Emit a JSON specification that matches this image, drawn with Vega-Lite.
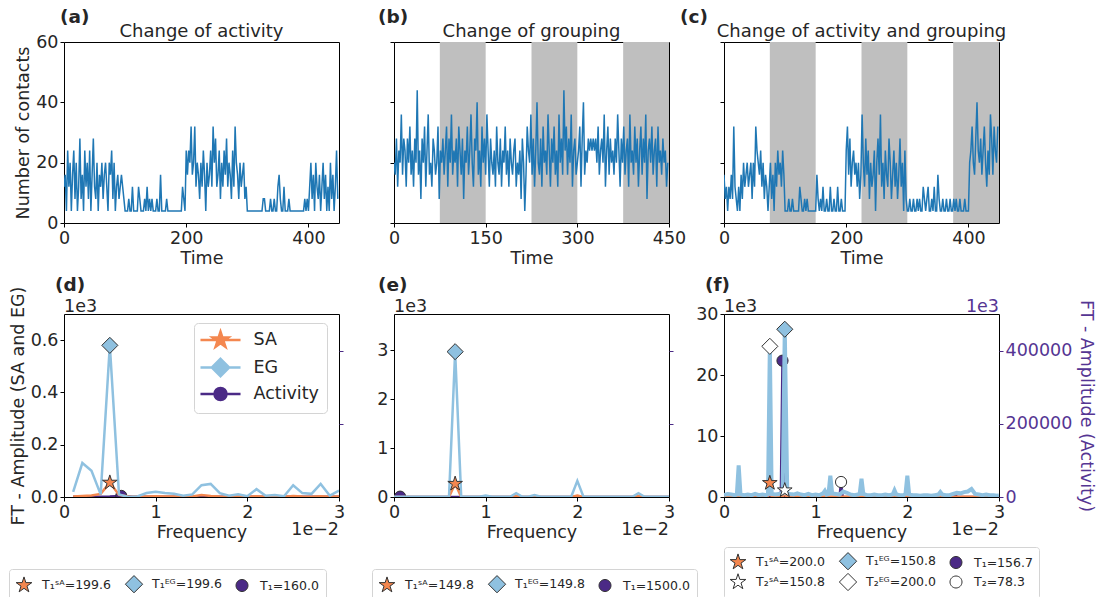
{
"$schema":"https://vega.github.io/schema/vega-lite/v6.json",
"background":"white",
"padding":{"left":8,"top":7,"right":2,"bottom":0},
"config":{
 "font":"DejaVu Sans",
 "view":{"stroke":"#000000","strokeWidth":1},
 "axis":{"domain":false,"grid":false,"tickColor":"#000000","tickSize":4,"tickWidth":1,"labelFont":"DejaVu Sans","labelFontSize":17.5,"labelColor":"#262626","labelPadding":2,"labelFlush":false,"labelOverlap":false,"labelBound":false,"titleFont":"DejaVu Sans","titleFontSize":17.5,"titleFontWeight":"normal","titleColor":"#262626","titlePadding":3},
 "legend":{"labelFont":"DejaVu Sans","labelColor":"#262626"},
 "text":{"font":"DejaVu Sans"}
},
"datasets":{
"ts":[
{"t":0,"a":12,"b":20,"c":16},{"t":2,"a":16,"b":16,"c":8},{"t":4,"a":4,"b":28,"c":12},{"t":6,"a":24,"b":12,"c":4},{"t":8,"a":12,"b":24,"c":12},{"t":10,"a":20,"b":20,"c":8},{"t":12,"a":4,"b":36,"c":16},{"t":14,"a":16,"b":16,"c":8},{"t":16,"a":24,"b":28,"c":32},{"t":18,"a":8,"b":24,"c":12},
{"t":20,"a":20,"b":12,"c":8},{"t":22,"a":4,"b":28,"c":4},{"t":24,"a":12,"b":20,"c":12},{"t":26,"a":28,"b":32,"c":4},{"t":28,"a":8,"b":16,"c":16},{"t":30,"a":16,"b":24,"c":8},{"t":32,"a":4,"b":12,"c":20},{"t":34,"a":24,"b":28,"c":12},{"t":36,"a":12,"b":20,"c":16},{"t":38,"a":20,"b":44,"c":20},
{"t":40,"a":8,"b":16,"c":12},{"t":42,"a":24,"b":24,"c":16},{"t":44,"a":4,"b":8,"c":20},{"t":46,"a":16,"b":28,"c":8},{"t":48,"a":28,"b":20,"c":20},{"t":50,"a":12,"b":32,"c":12},{"t":52,"a":8,"b":12,"c":32},{"t":54,"a":20,"b":24,"c":24},{"t":56,"a":4,"b":36,"c":20},{"t":58,"a":16,"b":16,"c":16},
{"t":60,"a":12,"b":20,"c":24},{"t":62,"a":20,"b":12,"c":12},{"t":64,"a":8,"b":28,"c":20},{"t":66,"a":16,"b":24,"c":8},{"t":68,"a":20,"b":16,"c":16},{"t":70,"a":12,"b":20,"c":12},{"t":72,"a":4,"b":32,"c":4},{"t":74,"a":20,"b":8,"c":12},{"t":76,"a":16,"b":24,"c":20},{"t":78,"a":24,"b":20,"c":8},
{"t":80,"a":8,"b":28,"c":16},{"t":82,"a":20,"b":16,"c":4},{"t":84,"a":4,"b":24,"c":20},{"t":86,"a":12,"b":32,"c":12},{"t":88,"a":16,"b":12,"c":24},{"t":90,"a":8,"b":28,"c":16},{"t":92,"a":12,"b":20,"c":20},{"t":94,"a":16,"b":36,"c":12},{"t":96,"a":12,"b":16,"c":24},{"t":98,"a":8,"b":24,"c":16},
{"t":100,"a":4,"b":20,"c":4},{"t":102,"a":4,"b":28,"c":4},{"t":104,"a":4,"b":12,"c":4},{"t":106,"a":8,"b":32,"c":8},{"t":108,"a":4,"b":24,"c":4},{"t":110,"a":4,"b":16,"c":4},{"t":112,"a":12,"b":28,"c":8},{"t":114,"a":4,"b":8,"c":4},{"t":116,"a":4,"b":24,"c":4},{"t":118,"a":4,"b":20,"c":4},
{"t":120,"a":4,"b":32,"c":4},{"t":122,"a":12,"b":16,"c":4},{"t":124,"a":8,"b":24,"c":12},{"t":126,"a":4,"b":36,"c":8},{"t":128,"a":4,"b":20,"c":4},{"t":130,"a":4,"b":12,"c":4},{"t":132,"a":8,"b":28,"c":8},{"t":134,"a":4,"b":24,"c":4},{"t":136,"a":12,"b":40,"c":8},{"t":138,"a":4,"b":16,"c":4},
{"t":140,"a":8,"b":24,"c":4},{"t":142,"a":4,"b":12,"c":4},{"t":144,"a":8,"b":32,"c":4},{"t":146,"a":4,"b":20,"c":4},{"t":148,"a":4,"b":28,"c":4},{"t":150,"a":4,"b":16,"c":4},{"t":152,"a":8,"b":36,"c":16},{"t":154,"a":4,"b":24,"c":8},{"t":156,"a":4,"b":12,"c":4},{"t":158,"a":16,"b":28,"c":8},
{"t":160,"a":4,"b":20,"c":4},{"t":162,"a":4,"b":16,"c":12},{"t":164,"a":4,"b":24,"c":4},{"t":166,"a":4,"b":12,"c":4},{"t":168,"a":8,"b":32,"c":8},{"t":170,"a":4,"b":20,"c":4},{"t":172,"a":4,"b":16,"c":4},{"t":174,"a":4,"b":28,"c":12},{"t":176,"a":4,"b":12,"c":4},{"t":178,"a":4,"b":24,"c":4},
{"t":180,"a":4,"b":20,"c":8},{"t":182,"a":4,"b":32,"c":4},{"t":184,"a":4,"b":16,"c":4},{"t":186,"a":4,"b":24,"c":12},{"t":188,"a":4,"b":12,"c":4},{"t":190,"a":4,"b":28,"c":4},{"t":192,"a":4,"b":20,"c":8},{"t":194,"a":12,"b":16,"c":4},{"t":196,"a":8,"b":24,"c":4},{"t":198,"a":4,"b":28,"c":4},
{"t":200,"a":24,"b":12,"c":24},{"t":202,"a":16,"b":20,"c":32},{"t":204,"a":24,"b":16,"c":16},{"t":206,"a":20,"b":24,"c":28},{"t":208,"a":32,"b":8,"c":12},{"t":210,"a":16,"b":28,"c":20},{"t":212,"a":20,"b":20,"c":24},{"t":214,"a":32,"b":4,"c":16},{"t":216,"a":12,"b":16,"c":20},{"t":218,"a":20,"b":32,"c":12},
{"t":220,"a":16,"b":24,"c":20},{"t":222,"a":8,"b":20,"c":8},{"t":224,"a":20,"b":36,"c":16},{"t":226,"a":12,"b":16,"c":36},{"t":228,"a":24,"b":28,"c":20},{"t":230,"a":16,"b":12,"c":12},{"t":232,"a":4,"b":24,"c":28},{"t":234,"a":20,"b":40,"c":16},{"t":236,"a":12,"b":20,"c":24},{"t":238,"a":16,"b":16,"c":8},
{"t":240,"a":24,"b":28,"c":20},{"t":242,"a":12,"b":12,"c":12},{"t":244,"a":32,"b":32,"c":16},{"t":246,"a":20,"b":20,"c":24},{"t":248,"a":28,"b":24,"c":4},{"t":250,"a":12,"b":16,"c":20},{"t":252,"a":16,"b":36,"c":28},{"t":254,"a":24,"b":24,"c":16},{"t":256,"a":8,"b":12,"c":36},{"t":258,"a":20,"b":28,"c":12},
{"t":260,"a":12,"b":20,"c":20},{"t":262,"a":24,"b":32,"c":8},{"t":264,"a":16,"b":16,"c":24},{"t":266,"a":28,"b":24,"c":16},{"t":268,"a":12,"b":12,"c":12},{"t":270,"a":20,"b":36,"c":28},{"t":272,"a":16,"b":20,"c":20},{"t":274,"a":8,"b":28,"c":8},{"t":276,"a":24,"b":16,"c":16},{"t":278,"a":12,"b":44,"c":24},
{"t":280,"a":32,"b":24,"c":12},{"t":282,"a":20,"b":32,"c":20},{"t":284,"a":16,"b":16,"c":8},{"t":286,"a":8,"b":28,"c":16},{"t":288,"a":20,"b":20,"c":28},{"t":290,"a":12,"b":36,"c":12},{"t":292,"a":16,"b":12,"c":20},{"t":294,"a":20,"b":24,"c":4},{"t":296,"a":8,"b":28,"c":24},{"t":298,"a":12,"b":16,"c":8},
{"t":300,"a":4,"b":20,"c":4},{"t":302,"a":4,"b":24,"c":4},{"t":304,"a":4,"b":32,"c":8},{"t":306,"a":4,"b":12,"c":4},{"t":308,"a":4,"b":28,"c":4},{"t":310,"a":4,"b":40,"c":8},{"t":312,"a":4,"b":16,"c":4},{"t":314,"a":4,"b":24,"c":4},{"t":316,"a":4,"b":20,"c":8},{"t":318,"a":4,"b":28,"c":4},
{"t":320,"a":4,"b":24,"c":8},{"t":322,"a":4,"b":28,"c":4},{"t":324,"a":4,"b":24,"c":4},{"t":326,"a":8,"b":28,"c":12},{"t":328,"a":8,"b":24,"c":8},{"t":330,"a":4,"b":28,"c":4},{"t":332,"a":4,"b":20,"c":8},{"t":334,"a":4,"b":32,"c":12},{"t":336,"a":4,"b":16,"c":4},{"t":338,"a":8,"b":24,"c":4},
{"t":340,"a":4,"b":28,"c":8},{"t":342,"a":4,"b":20,"c":4},{"t":344,"a":8,"b":36,"c":12},{"t":346,"a":4,"b":12,"c":4},{"t":348,"a":4,"b":24,"c":4},{"t":350,"a":12,"b":32,"c":16},{"t":352,"a":16,"b":16,"c":8},{"t":354,"a":8,"b":28,"c":4},{"t":356,"a":4,"b":20,"c":4},{"t":358,"a":4,"b":24,"c":8},
{"t":360,"a":12,"b":16,"c":4},{"t":362,"a":4,"b":28,"c":4},{"t":364,"a":4,"b":20,"c":8},{"t":366,"a":4,"b":36,"c":4},{"t":368,"a":8,"b":24,"c":4},{"t":370,"a":4,"b":12,"c":8},{"t":372,"a":4,"b":28,"c":4},{"t":374,"a":4,"b":20,"c":4},{"t":376,"a":4,"b":32,"c":8},{"t":378,"a":4,"b":16,"c":4},
{"t":380,"a":4,"b":24,"c":8},{"t":382,"a":4,"b":28,"c":4},{"t":384,"a":4,"b":12,"c":4},{"t":386,"a":4,"b":36,"c":8},{"t":388,"a":4,"b":20,"c":4},{"t":390,"a":4,"b":24,"c":4},{"t":392,"a":4,"b":16,"c":4},{"t":394,"a":8,"b":32,"c":8},{"t":396,"a":4,"b":20,"c":4},{"t":398,"a":8,"b":28,"c":4},
{"t":400,"a":4,"b":12,"c":4},{"t":402,"a":12,"b":24,"c":20},{"t":404,"a":20,"b":32,"c":24},{"t":406,"a":8,"b":16,"c":32},{"t":408,"a":16,"b":28,"c":20},{"t":410,"a":4,"b":20,"c":16},{"t":412,"a":20,"b":36,"c":28},{"t":414,"a":12,"b":8,"c":40},{"t":416,"a":8,"b":24,"c":24},{"t":418,"a":16,"b":28,"c":20},
{"t":420,"a":4,"b":20,"c":28},{"t":422,"a":12,"b":32,"c":16},{"t":424,"a":20,"b":16,"c":24},{"t":426,"a":8,"b":24,"c":32},{"t":428,"a":16,"b":28,"c":20},{"t":430,"a":4,"b":12,"c":12},{"t":432,"a":12,"b":32,"c":24},{"t":434,"a":4,"b":20,"c":16},{"t":436,"a":20,"b":24,"c":36},{"t":438,"a":8,"b":16,"c":28},
{"t":440,"a":16,"b":28,"c":16},{"t":442,"a":4,"b":20,"c":32},{"t":444,"a":12,"b":24,"c":24},{"t":446,"a":24,"b":12,"c":20},{"t":448,"a":8,"b":20,"c":32}
],
"bands":[{"s":75,"e":150},{"s":225,"e":300},{"s":375,"e":450}],
"dSA":[{"f":0.1,"v":0.002},{"f":0.2,"v":0.004},{"f":0.3,"v":0.006},{"f":0.4,"v":0.012},{"f":0.5,"v":0.055},{"f":0.6,"v":0.008},{"f":0.7,"v":0.002},{"f":0.8,"v":0.001},{"f":0.9,"v":0.002},{"f":1.0,"v":0.003},{"f":1.1,"v":0.002},{"f":1.2,"v":0.002},{"f":1.3,"v":0.001},{"f":1.4,"v":0.002},{"f":1.5,"v":0.008},{"f":1.6,"v":0.004},{"f":1.7,"v":0.002},{"f":1.8,"v":0.001},{"f":1.9,"v":0.002},{"f":2.0,"v":0.001},{"f":2.1,"v":0.003},{"f":2.2,"v":0.001},{"f":2.3,"v":0.001},{"f":2.4,"v":0.001},{"f":2.5,"v":0.004},{"f":2.6,"v":0.002},{"f":2.7,"v":0.001},{"f":2.8,"v":0.003},{"f":2.9,"v":0.001},{"f":3.0,"v":0.002}],
"dEG":[{"f":0.1,"v":0.02},{"f":0.2,"v":0.13},{"f":0.3,"v":0.10},{"f":0.4,"v":0.01},{"f":0.5,"v":0.58},{"f":0.6,"v":0.01},{"f":0.7,"v":0.0},{"f":0.8,"v":0.002},{"f":0.9,"v":0.015},{"f":1.0,"v":0.02},{"f":1.1,"v":0.015},{"f":1.2,"v":0.012},{"f":1.3,"v":0.005},{"f":1.4,"v":0.01},{"f":1.5,"v":0.045},{"f":1.6,"v":0.05},{"f":1.7,"v":0.015},{"f":1.8,"v":0.005},{"f":1.9,"v":0.01},{"f":2.0,"v":0.003},{"f":2.1,"v":0.03},{"f":2.2,"v":0.005},{"f":2.3,"v":0.008},{"f":2.4,"v":0.003},{"f":2.5,"v":0.045},{"f":2.6,"v":0.015},{"f":2.7,"v":0.012},{"f":2.8,"v":0.05},{"f":2.9,"v":0.005},{"f":3.0,"v":0.025}],
"dAct":[{"f":0.1,"v":500},{"f":0.3,"v":800},{"f":0.5,"v":1500},{"f":0.625,"v":3000},{"f":0.75,"v":800},{"f":1.0,"v":500},{"f":1.5,"v":600},{"f":2.0,"v":400},{"f":2.5,"v":500},{"f":3.0,"v":400}],
"dM":[{"f":0.5,"v":0.055,"m":"T₁ˢᴬ=199.6"},{"f":0.5,"v":0.58,"m":"T₁ᴱᴳ=199.6"}],
"dAM":[{"f":0.625,"v":3000,"m":"T₁=160.0"}],
"eSA":[{"f":0,"v":0.002},{"f":0.6,"v":0.002},{"f":0.667,"v":0.27},{"f":0.733,"v":0.002},{"f":1.267,"v":0.002},{"f":1.333,"v":0.02},{"f":1.4,"v":0.002},{"f":1.933,"v":0.002},{"f":2.0,"v":0.03},{"f":2.067,"v":0.002},{"f":2.6,"v":0.002},{"f":2.667,"v":0.02},{"f":2.733,"v":0.002},{"f":3.0,"v":0.002}],
"eEG":[{"f":0,"v":0.005},{"f":0.6,"v":0.005},{"f":0.667,"v":2.97},{"f":0.733,"v":0.005},{"f":0.933,"v":0.005},{"f":1.0,"v":0.03},{"f":1.067,"v":0.005},{"f":1.267,"v":0.005},{"f":1.333,"v":0.08},{"f":1.4,"v":0.005},{"f":1.467,"v":0.005},{"f":1.533,"v":0.04},{"f":1.6,"v":0.005},{"f":1.933,"v":0.005},{"f":2.0,"v":0.33},{"f":2.067,"v":0.005},{"f":2.6,"v":0.005},{"f":2.667,"v":0.08},{"f":2.733,"v":0.005},{"f":3.0,"v":0.005}],
"eAct":[{"f":0,"v":0},{"f":0.0667,"v":1000},{"f":0.133,"v":0},{"f":3.0,"v":0}],
"eM":[{"f":0.667,"v":0.27,"m":"T₁ˢᴬ=149.8"},{"f":0.667,"v":2.97,"m":"T₁ᴱᴳ=149.8"}],
"eAM":[{"f":0.0667,"v":1000,"m":"T₁=1500.0"}],
"fSA":[{"f":0,"v":0.05},{"f":0.48,"v":0.05},{"f":0.5,"v":2.3},{"f":0.52,"v":0.05},{"f":0.645,"v":0.05},{"f":0.663,"v":1.1},{"f":0.68,"v":0.05},{"f":3.0,"v":0.05}],
"fEG":[{"f":0,"v":0.3},{"f":0.04,"v":0.5},{"f":0.08,"v":0.4},{"f":0.12,"v":0.3},{"f":0.14,"v":0.4},{"f":0.16,"v":5.2},{"f":0.18,"v":0.4},{"f":0.22,"v":0.3},{"f":0.26,"v":0.4},{"f":0.3,"v":0.3},{"f":0.34,"v":0.5},{"f":0.38,"v":0.3},{"f":0.42,"v":0.4},{"f":0.46,"v":0.3},{"f":0.48,"v":0.5},{"f":0.5,"v":24.7},{"f":0.52,"v":0.5},{"f":0.56,"v":0.4},{"f":0.6,"v":0.5},{"f":0.64,"v":0.6},{"f":0.663,"v":27.5},{"f":0.69,"v":0.6},{"f":0.72,"v":0.5},{"f":0.76,"v":0.4},{"f":0.8,"v":0.6},{"f":0.84,"v":0.4},{"f":0.88,"v":0.3},{"f":0.92,"v":0.5},{"f":0.96,"v":0.3},{"f":1.0,"v":0.4},{"f":1.04,"v":0.3},{"f":1.08,"v":0.6},{"f":1.1,"v":1.0},{"f":1.12,"v":0.4},{"f":1.14,"v":0.5},{"f":1.16,"v":3.5},{"f":1.18,"v":0.6},{"f":1.22,"v":0.5},{"f":1.26,"v":0.4},{"f":1.3,"v":0.9},{"f":1.34,"v":0.7},{"f":1.38,"v":0.4},{"f":1.42,"v":0.3},{"f":1.46,"v":0.4},{"f":1.48,"v":0.5},{"f":1.5,"v":3.0},{"f":1.52,"v":0.5},{"f":1.56,"v":0.3},{"f":1.6,"v":0.3},{"f":1.64,"v":0.4},{"f":1.68,"v":0.3},{"f":1.72,"v":0.3},{"f":1.76,"v":0.4},{"f":1.8,"v":0.3},{"f":1.84,"v":0.4},{"f":1.86,"v":1.1},{"f":1.88,"v":0.4},{"f":1.92,"v":0.3},{"f":1.96,"v":0.3},{"f":1.98,"v":0.5},{"f":2.0,"v":3.5},{"f":2.02,"v":0.4},{"f":2.06,"v":0.3},{"f":2.1,"v":0.3},{"f":2.14,"v":0.2},{"f":2.18,"v":0.3},{"f":2.22,"v":0.3},{"f":2.26,"v":0.2},{"f":2.3,"v":0.3},{"f":2.34,"v":0.4},{"f":2.36,"v":0.8},{"f":2.38,"v":0.4},{"f":2.42,"v":0.3},{"f":2.46,"v":0.3},{"f":2.5,"v":0.5},{"f":2.54,"v":0.7},{"f":2.58,"v":0.6},{"f":2.62,"v":0.8},{"f":2.66,"v":0.9},{"f":2.7,"v":1.3},{"f":2.74,"v":0.5},{"f":2.78,"v":0.4},{"f":2.82,"v":0.3},{"f":2.86,"v":0.4},{"f":2.9,"v":0.3},{"f":2.94,"v":0.3},{"f":2.98,"v":0.2},{"f":3.0,"v":0.3}],
"fAct":[{"f":0,"v":0},{"f":0.62,"v":0},{"f":0.638,"v":372500},{"f":0.656,"v":0},{"f":1.26,"v":0},{"f":1.277,"v":41000},{"f":1.294,"v":0},{"f":2.5,"v":0},{"f":2.52,"v":8000},{"f":2.54,"v":0},{"f":3.0,"v":0}],
"fM":[{"f":0.5,"v":2.3,"m":"T₁ˢᴬ=200.0"},{"f":0.663,"v":27.5,"m":"T₁ᴱᴳ=150.8"},{"f":0.663,"v":1.1,"m":"T₂ˢᴬ=150.8"},{"f":0.5,"v":24.7,"m":"T₂ᴱᴳ=200.0"}],
"fAM":[{"f":0.638,"v":372500,"m":"T₁=156.7"},{"f":1.277,"v":41000,"m":"T₂=78.3"}]
},
"columns":3,
"spacing":{"row":91,"column":55},
"bounds":"flush",
"resolve":{"scale":{"x":"independent","y":"independent","color":"independent","fill":"independent","stroke":"independent","shape":"independent"},"legend":{"color":"independent","fill":"independent","stroke":"independent","shape":"independent"}},
"concat":[
{"width":275,"height":181,
 "layer":[
  {"data":{"name":"ts"},"mark":{"type":"line","color":"#1f77b4","strokeWidth":1.5,"clip":true},
   "encoding":{"x":{"field":"t","type":"quantitative","scale":{"domain":[0,450],"nice":false},"axis":{"values":[0,200,400],"title":"Time"}},
    "y":{"field":"a","type":"quantitative","scale":{"domain":[0,60],"nice":false},"axis":{"values":[0,20,40,60],"title":"Number of contacts"}}}},
  {"data":{"values":[{"lab":"(a)"}]},"mark":{"type":"text","fontSize":18.5,"fontWeight":"bold","align":"left","baseline":"alphabetic","color":"#262626"},
   "encoding":{"x":{"datum":-6.5,"type":"quantitative","scale":{"domain":[0,450],"nice":false}},"y":{"datum":66.3,"type":"quantitative","scale":{"domain":[0,60],"nice":false}},"text":{"field":"lab","type":"nominal"}}},
  {"data":{"values":[{"lab":"Change of activity"}]},"mark":{"type":"text","fontSize":18,"align":"center","baseline":"alphabetic","color":"#262626"},
   "encoding":{"x":{"datum":225,"type":"quantitative","scale":{"domain":[0,450],"nice":false}},"y":{"datum":61.66,"type":"quantitative","scale":{"domain":[0,60],"nice":false}},"text":{"field":"lab","type":"nominal"}}}
 ]},
{"width":275,"height":181,
 "layer":[
  {"data":{"name":"bands"},"mark":{"type":"rect","color":"#bfbfbf"},
   "encoding":{"x":{"field":"s","type":"quantitative","scale":{"domain":[0,450],"nice":false}},"x2":{"field":"e"}}},
  {"data":{"name":"ts"},"mark":{"type":"line","color":"#1f77b4","strokeWidth":1.5,"clip":true},
   "encoding":{"x":{"field":"t","type":"quantitative","scale":{"domain":[0,450],"nice":false},"axis":{"values":[0,150,300,450],"title":"Time"}},
    "y":{"field":"b","type":"quantitative","scale":{"domain":[0,60],"nice":false},"axis":{"values":[0,20,40,60],"labels":false,"title":null}}}},
  {"data":{"values":[{"lab":"(b)"}]},"mark":{"type":"text","fontSize":18.5,"fontWeight":"bold","align":"left","baseline":"alphabetic","color":"#262626"},
   "encoding":{"x":{"datum":-26.2,"type":"quantitative","scale":{"domain":[0,450],"nice":false}},"y":{"datum":66.3,"type":"quantitative","scale":{"domain":[0,60],"nice":false}},"text":{"field":"lab","type":"nominal"}}},
  {"data":{"values":[{"lab":"Change of grouping"}]},"mark":{"type":"text","fontSize":18,"align":"center","baseline":"alphabetic","color":"#262626"},
   "encoding":{"x":{"datum":225,"type":"quantitative","scale":{"domain":[0,450],"nice":false}},"y":{"datum":61.66,"type":"quantitative","scale":{"domain":[0,60],"nice":false}},"text":{"field":"lab","type":"nominal"}}}
 ]},
{"width":275,"height":181,
 "layer":[
  {"data":{"name":"bands"},"mark":{"type":"rect","color":"#bfbfbf"},
   "encoding":{"x":{"field":"s","type":"quantitative","scale":{"domain":[0,450],"nice":false}},"x2":{"field":"e"}}},
  {"data":{"name":"ts"},"mark":{"type":"line","color":"#1f77b4","strokeWidth":1.5,"clip":true},
   "encoding":{"x":{"field":"t","type":"quantitative","scale":{"domain":[0,450],"nice":false},"axis":{"values":[0,200,400],"title":"Time"}},
    "y":{"field":"c","type":"quantitative","scale":{"domain":[0,60],"nice":false},"axis":{"values":[0,20,40,60],"labels":false,"title":null}}}},
  {"data":{"values":[{"lab":"(c)"}]},"mark":{"type":"text","fontSize":18.5,"fontWeight":"bold","align":"left","baseline":"alphabetic","color":"#262626"},
   "encoding":{"x":{"datum":-72,"type":"quantitative","scale":{"domain":[0,450],"nice":false}},"y":{"datum":66.3,"type":"quantitative","scale":{"domain":[0,60],"nice":false}},"text":{"field":"lab","type":"nominal"}}},
  {"data":{"values":[{"lab":"Change of activity and grouping"}]},"mark":{"type":"text","fontSize":18,"align":"center","baseline":"alphabetic","color":"#262626"},
   "encoding":{"x":{"datum":225,"type":"quantitative","scale":{"domain":[0,450],"nice":false}},"y":{"datum":61.66,"type":"quantitative","scale":{"domain":[0,60],"nice":false}},"text":{"field":"lab","type":"nominal"}}}
 ]},
{"width":275,"height":183,
 "resolve":{"scale":{"y":"independent","color":"independent","fill":"independent","shape":"independent","stroke":"independent"}},
 "layer":[
  {"layer":[
   {"data":{"name":"dAct"},"mark":{"type":"line","strokeWidth":2.5,"clip":true},
    "encoding":{"x":{"field":"f","type":"quantitative","scale":{"domain":[0,3],"nice":false}},
     "y":{"field":"v","type":"quantitative","scale":{"domain":[0,500000],"nice":false},"axis":{"orient":"right","values":[200000,400000],"labels":false,"title":null,"tickColor":"#4b2a86"}},
     "color":{"datum":"Activity","type":"nominal","scale":{"domain":["SA","EG","Activity"],"range":["#f4874f","#8fc1e0","#4b2a86"]},"legend":null}}},
   {"data":{"name":"dAM"},"mark":{"type":"point","filled":true,"size":196,"strokeWidth":1,"opacity":1,"clip":true},
    "encoding":{"x":{"field":"f","type":"quantitative","scale":{"domain":[0,3],"nice":false}},"y":{"field":"v","type":"quantitative","scale":{"domain":[0,500000],"nice":false}},
     "fill":{"field":"m","type":"nominal","scale":{"domain":["T₁ˢᴬ=199.6","T₁ᴱᴳ=199.6","T₁=160.0"],"range":["#f4874f","#8fc1e0","#4b2a86"]},"legend":null},
     "stroke":{"field":"m","type":"nominal","scale":{"domain":["T₁ˢᴬ=199.6","T₁ᴱᴳ=199.6","T₁=160.0"],"range":["#333333","#333333","#333333"]},"legend":null},
     "shape":{"field":"m","type":"nominal","scale":{"domain":["T₁ˢᴬ=199.6","T₁ᴱᴳ=199.6","T₁=160.0"],"range":["M0,-1.1L0.247,-0.34L1.046,-0.34L0.4,0.13L0.647,0.89L0,0.42L-0.647,0.89L-0.4,0.13L-1.046,-0.34L-0.247,-0.34Z","M0,-1.15L1.15,0L0,1.15L-1.15,0Z","M0.8,0A0.8,0.8,0,1,1,-0.8,0A0.8,0.8,0,1,1,0.8,0Z"]},"legend":null}}}
  ]},
  {"layer":[
   {"data":{"name":"dSA"},"mark":{"type":"line","strokeWidth":2.5,"clip":true},
    "encoding":{"x":{"field":"f","type":"quantitative","scale":{"domain":[0,3],"nice":false},"axis":{"values":[0,1,2,3],"format":"d","title":"Frequency"}},
     "y":{"field":"v","type":"quantitative","scale":{"domain":[0,0.7],"nice":false},"axis":{"orient":"left","values":[0,0.2,0.4,0.6],"format":".1f","title":"FT - Amplitude (SA and EG)"}},
     "color":{"datum":"SA","type":"nominal","scale":{"domain":["SA","EG","Activity"],"range":["#f4874f","#8fc1e0","#4b2a86"]},"legend":null}}},
   {"data":{"name":"dEG"},"mark":{"type":"line","strokeWidth":2.5,"clip":true},
    "encoding":{"x":{"field":"f","type":"quantitative","scale":{"domain":[0,3],"nice":false}},"y":{"field":"v","type":"quantitative","scale":{"domain":[0,0.7],"nice":false}},
     "color":{"datum":"EG","type":"nominal","scale":{"domain":["SA","EG","Activity"],"range":["#f4874f","#8fc1e0","#4b2a86"]},"legend":null}}},
   {"data":{"name":"dM"},"mark":{"type":"point","filled":true,"size":196,"strokeWidth":1,"opacity":1,"clip":true},
    "encoding":{"x":{"field":"f","type":"quantitative","scale":{"domain":[0,3],"nice":false}},"y":{"field":"v","type":"quantitative","scale":{"domain":[0,0.7],"nice":false}},
     "fill":{"field":"m","type":"nominal","scale":{"domain":["T₁ˢᴬ=199.6","T₁ᴱᴳ=199.6","T₁=160.0"],"range":["#f4874f","#8fc1e0","#4b2a86"]},
      "legend":{"orient":"none","legendX":-55,"legendY":255,"direction":"horizontal","columns":3,"title":null,"fillColor":"white","strokeColor":"#d4d4d4","cornerRadius":3,"padding":7,"labelFontSize":12.5,"labelColor":"#262626","symbolSize":225,"symbolStrokeWidth":1,"labelOffset":10,"columnPadding":12,"rowPadding":7}},
     "stroke":{"field":"m","type":"nominal","scale":{"domain":["T₁ˢᴬ=199.6","T₁ᴱᴳ=199.6","T₁=160.0"],"range":["#333333","#333333","#333333"]},
      "legend":{"orient":"none","legendX":-55,"legendY":255,"direction":"horizontal","columns":3,"title":null,"fillColor":"white","strokeColor":"#d4d4d4","cornerRadius":3,"padding":7,"labelFontSize":12.5,"labelColor":"#262626","symbolSize":225,"symbolStrokeWidth":1,"labelOffset":10,"columnPadding":12,"rowPadding":7}},
     "shape":{"field":"m","type":"nominal","scale":{"domain":["T₁ˢᴬ=199.6","T₁ᴱᴳ=199.6","T₁=160.0"],"range":["M0,-1.1L0.247,-0.34L1.046,-0.34L0.4,0.13L0.647,0.89L0,0.42L-0.647,0.89L-0.4,0.13L-1.046,-0.34L-0.247,-0.34Z","M0,-1.15L1.15,0L0,1.15L-1.15,0Z","M0.8,0A0.8,0.8,0,1,1,-0.8,0A0.8,0.8,0,1,1,0.8,0Z"]},
      "legend":{"orient":"none","legendX":-55,"legendY":255,"direction":"horizontal","columns":3,"title":null,"fillColor":"white","strokeColor":"#d4d4d4","cornerRadius":3,"padding":7,"labelFontSize":12.5,"labelColor":"#262626","symbolSize":225,"symbolStrokeWidth":1,"labelOffset":10,"columnPadding":12,"rowPadding":7}}}},
   {"data":{"values":[{"lab":"(d)"}]},"mark":{"type":"text","fontSize":18.5,"fontWeight":"bold","align":"left","baseline":"alphabetic","color":"#262626"},
    "encoding":{"x":{"datum":-0.098,"type":"quantitative","scale":{"domain":[0,3],"nice":false}},"y":{"datum":0.788,"type":"quantitative","scale":{"domain":[0,0.7],"nice":false}},"text":{"field":"lab","type":"nominal"}}},
   {"data":{"values":[{"lab":"1e3"}]},"mark":{"type":"text","fontSize":17.5,"align":"left","baseline":"alphabetic","color":"#262626"},
    "encoding":{"x":{"datum":0,"type":"quantitative","scale":{"domain":[0,3],"nice":false}},"y":{"datum":0.7076,"type":"quantitative","scale":{"domain":[0,0.7],"nice":false}},"text":{"field":"lab","type":"nominal"}}},
   {"data":{"values":[{"lab":"1e−2"}]},"mark":{"type":"text","fontSize":17.5,"align":"right","baseline":"alphabetic","color":"#262626"},
    "encoding":{"x":{"datum":3,"type":"quantitative","scale":{"domain":[0,3],"nice":false}},"y":{"datum":-0.145,"type":"quantitative","scale":{"domain":[0,0.7],"nice":false}},"text":{"field":"lab","type":"nominal"}}}
  ]},
  {"data":{"values":[]},"mark":{"type":"point","filled":true,"opacity":1,"strokeWidth":2.5},
   "encoding":{"x":{"field":"f","type":"quantitative","scale":{"domain":[0,3],"nice":false}},"y":{"field":"v","type":"quantitative","scale":{"domain":[0,1],"nice":false},"axis":null},
    "color":{"field":"s","type":"nominal","scale":{"domain":["SA","EG","Activity"],"range":["#f4874f","#8fc1e0","#4b2a86"]},
     "legend":{"orient":"none","legendX":130,"legendY":9,"direction":"vertical","title":null,"fillColor":"white","strokeColor":"#d4d4d4","cornerRadius":4,"padding":8,"labelFontSize":17.5,"labelColor":"#262626","symbolSize":225,"symbolOffset":9.5,"labelOffset":24,"rowPadding":1.5,"symbolStrokeWidth":2.5}},
    "stroke":{"field":"s","type":"nominal","scale":{"domain":["SA","EG","Activity"],"range":["#f4874f","#8fc1e0","#4b2a86"]},
     "legend":{"orient":"none","legendX":130,"legendY":9,"direction":"vertical","title":null,"fillColor":"white","strokeColor":"#d4d4d4","cornerRadius":4,"padding":8,"labelFontSize":17.5,"labelColor":"#262626","symbolSize":225,"symbolOffset":9.5,"labelOffset":24,"rowPadding":1.5,"symbolStrokeWidth":2.5}},
    "shape":{"field":"s","type":"nominal","scale":{"domain":["SA","EG","Activity"],"range":["M-2.67,0L2.67,0M0,-1.1L0.247,-0.34L1.046,-0.34L0.4,0.13L0.647,0.89L0,0.42L-0.647,0.89L-0.4,0.13L-1.046,-0.34L-0.247,-0.34Z","M-2.67,0L2.67,0M0,-1.15L1.15,0L0,1.15L-1.15,0Z","M-2.67,0L2.67,0M0.8,0A0.8,0.8,0,1,1,-0.8,0A0.8,0.8,0,1,1,0.8,0Z"]},
     "legend":{"orient":"none","legendX":130,"legendY":9,"direction":"vertical","title":null,"fillColor":"white","strokeColor":"#d4d4d4","cornerRadius":4,"padding":8,"labelFontSize":17.5,"labelColor":"#262626","symbolSize":225,"symbolOffset":9.5,"labelOffset":24,"rowPadding":1.5,"symbolStrokeWidth":2.5}}}}
 ]},
{"width":275,"height":183,
 "resolve":{"scale":{"y":"independent","color":"independent","fill":"independent","shape":"independent","stroke":"independent"}},
 "layer":[
  {"layer":[
   {"data":{"name":"eAct"},"mark":{"type":"line","strokeWidth":2.5,"clip":true},
    "encoding":{"x":{"field":"f","type":"quantitative","scale":{"domain":[0,3],"nice":false}},
     "y":{"field":"v","type":"quantitative","scale":{"domain":[0,500000],"nice":false},"axis":{"orient":"right","values":[200000,400000],"labels":false,"title":null,"tickColor":"#4b2a86"}},
     "color":{"datum":"Activity","type":"nominal","scale":{"domain":["SA","EG","Activity"],"range":["#f4874f","#8fc1e0","#4b2a86"]},"legend":null}}},
   {"data":{"name":"eAM"},"mark":{"type":"point","filled":true,"size":196,"strokeWidth":1,"opacity":1,"clip":true},
    "encoding":{"x":{"field":"f","type":"quantitative","scale":{"domain":[0,3],"nice":false}},"y":{"field":"v","type":"quantitative","scale":{"domain":[0,500000],"nice":false}},
     "fill":{"field":"m","type":"nominal","scale":{"domain":["T₁ˢᴬ=149.8","T₁ᴱᴳ=149.8","T₁=1500.0"],"range":["#f4874f","#8fc1e0","#4b2a86"]},"legend":null},
     "stroke":{"field":"m","type":"nominal","scale":{"domain":["T₁ˢᴬ=149.8","T₁ᴱᴳ=149.8","T₁=1500.0"],"range":["#333333","#333333","#333333"]},"legend":null},
     "shape":{"field":"m","type":"nominal","scale":{"domain":["T₁ˢᴬ=149.8","T₁ᴱᴳ=149.8","T₁=1500.0"],"range":["M0,-1.1L0.247,-0.34L1.046,-0.34L0.4,0.13L0.647,0.89L0,0.42L-0.647,0.89L-0.4,0.13L-1.046,-0.34L-0.247,-0.34Z","M0,-1.15L1.15,0L0,1.15L-1.15,0Z","M0.8,0A0.8,0.8,0,1,1,-0.8,0A0.8,0.8,0,1,1,0.8,0Z"]},"legend":null}}}
  ]},
  {"layer":[
   {"data":{"name":"eSA"},"mark":{"type":"line","strokeWidth":2.5,"clip":true},
    "encoding":{"x":{"field":"f","type":"quantitative","scale":{"domain":[0,3],"nice":false},"axis":{"values":[0,1,2,3],"format":"d","title":"Frequency"}},
     "y":{"field":"v","type":"quantitative","scale":{"domain":[0,3.74],"nice":false},"axis":{"orient":"left","values":[0,1,2,3],"format":"d","title":null}},
     "color":{"datum":"SA","type":"nominal","scale":{"domain":["SA","EG","Activity"],"range":["#f4874f","#8fc1e0","#4b2a86"]},"legend":null}}},
   {"data":{"name":"eEG"},"mark":{"type":"line","strokeWidth":2.5,"clip":true},
    "encoding":{"x":{"field":"f","type":"quantitative","scale":{"domain":[0,3],"nice":false}},"y":{"field":"v","type":"quantitative","scale":{"domain":[0,3.74],"nice":false}},
     "color":{"datum":"EG","type":"nominal","scale":{"domain":["SA","EG","Activity"],"range":["#f4874f","#8fc1e0","#4b2a86"]},"legend":null}}},
   {"data":{"name":"eM"},"mark":{"type":"point","filled":true,"size":196,"strokeWidth":1,"opacity":1,"clip":true},
    "encoding":{"x":{"field":"f","type":"quantitative","scale":{"domain":[0,3],"nice":false}},"y":{"field":"v","type":"quantitative","scale":{"domain":[0,3.74],"nice":false}},
     "fill":{"field":"m","type":"nominal","scale":{"domain":["T₁ˢᴬ=149.8","T₁ᴱᴳ=149.8","T₁=1500.0"],"range":["#f4874f","#8fc1e0","#4b2a86"]},
      "legend":{"orient":"none","legendX":-22,"legendY":255,"direction":"horizontal","columns":3,"title":null,"fillColor":"white","strokeColor":"#d4d4d4","cornerRadius":3,"padding":7,"labelFontSize":12.5,"labelColor":"#262626","symbolSize":225,"symbolStrokeWidth":1,"labelOffset":10,"columnPadding":12,"rowPadding":7}},
     "stroke":{"field":"m","type":"nominal","scale":{"domain":["T₁ˢᴬ=149.8","T₁ᴱᴳ=149.8","T₁=1500.0"],"range":["#333333","#333333","#333333"]},
      "legend":{"orient":"none","legendX":-22,"legendY":255,"direction":"horizontal","columns":3,"title":null,"fillColor":"white","strokeColor":"#d4d4d4","cornerRadius":3,"padding":7,"labelFontSize":12.5,"labelColor":"#262626","symbolSize":225,"symbolStrokeWidth":1,"labelOffset":10,"columnPadding":12,"rowPadding":7}},
     "shape":{"field":"m","type":"nominal","scale":{"domain":["T₁ˢᴬ=149.8","T₁ᴱᴳ=149.8","T₁=1500.0"],"range":["M0,-1.1L0.247,-0.34L1.046,-0.34L0.4,0.13L0.647,0.89L0,0.42L-0.647,0.89L-0.4,0.13L-1.046,-0.34L-0.247,-0.34Z","M0,-1.15L1.15,0L0,1.15L-1.15,0Z","M0.8,0A0.8,0.8,0,1,1,-0.8,0A0.8,0.8,0,1,1,0.8,0Z"]},
      "legend":{"orient":"none","legendX":-22,"legendY":255,"direction":"horizontal","columns":3,"title":null,"fillColor":"white","strokeColor":"#d4d4d4","cornerRadius":3,"padding":7,"labelFontSize":12.5,"labelColor":"#262626","symbolSize":225,"symbolStrokeWidth":1,"labelOffset":10,"columnPadding":12,"rowPadding":7}}}},
   {"data":{"values":[{"lab":"(e)"}]},"mark":{"type":"text","fontSize":18.5,"fontWeight":"bold","align":"left","baseline":"alphabetic","color":"#262626"},
    "encoding":{"x":{"datum":-0.175,"type":"quantitative","scale":{"domain":[0,3],"nice":false}},"y":{"datum":4.21,"type":"quantitative","scale":{"domain":[0,3.74],"nice":false}},"text":{"field":"lab","type":"nominal"}}},
   {"data":{"values":[{"lab":"1e3"}]},"mark":{"type":"text","fontSize":17.5,"align":"left","baseline":"alphabetic","color":"#262626"},
    "encoding":{"x":{"datum":0,"type":"quantitative","scale":{"domain":[0,3],"nice":false}},"y":{"datum":3.781,"type":"quantitative","scale":{"domain":[0,3.74],"nice":false}},"text":{"field":"lab","type":"nominal"}}},
   {"data":{"values":[{"lab":"1e−2"}]},"mark":{"type":"text","fontSize":17.5,"align":"right","baseline":"alphabetic","color":"#262626"},
    "encoding":{"x":{"datum":3,"type":"quantitative","scale":{"domain":[0,3],"nice":false}},"y":{"datum":-0.777,"type":"quantitative","scale":{"domain":[0,3.74],"nice":false}},"text":{"field":"lab","type":"nominal"}}}
  ]}
 ]},
{"width":275,"height":183,
 "resolve":{"scale":{"y":"independent","color":"independent","fill":"independent","shape":"independent","stroke":"independent"}},
 "layer":[
  {"layer":[
   {"data":{"name":"fAct"},"mark":{"type":"line","strokeWidth":2.5,"clip":true},
    "encoding":{"x":{"field":"f","type":"quantitative","scale":{"domain":[0,3],"nice":false}},
     "y":{"field":"v","type":"quantitative","scale":{"domain":[0,500000],"nice":false},"axis":{"orient":"right","values":[0,200000,400000],"format":"d","title":"FT - Amplitude (Activity)","tickColor":"#4b2a86","labelColor":"#553593","titleColor":"#553593","titlePadding":5}},
     "color":{"datum":"Activity","type":"nominal","scale":{"domain":["SA","EG","Activity"],"range":["#f4874f","#8fc1e0","#4b2a86"]},"legend":null}}},
   {"data":{"name":"fAM"},"mark":{"type":"point","filled":true,"size":196,"strokeWidth":1,"opacity":1,"clip":true},
    "encoding":{"x":{"field":"f","type":"quantitative","scale":{"domain":[0,3],"nice":false}},"y":{"field":"v","type":"quantitative","scale":{"domain":[0,500000],"nice":false}},
     "fill":{"field":"m","type":"nominal","scale":{"domain":["T₁ˢᴬ=200.0","T₁ᴱᴳ=150.8","T₁=156.7","T₂ˢᴬ=150.8","T₂ᴱᴳ=200.0","T₂=78.3"],"range":["#f4874f","#8fc1e0","#4b2a86","#ffffff","#ffffff","#ffffff"]},"legend":null},
     "stroke":{"field":"m","type":"nominal","scale":{"domain":["T₁ˢᴬ=200.0","T₁ᴱᴳ=150.8","T₁=156.7","T₂ˢᴬ=150.8","T₂ᴱᴳ=200.0","T₂=78.3"],"range":["#333333","#333333","#333333","#333333","#333333","#333333"]},"legend":null},
     "shape":{"field":"m","type":"nominal","scale":{"domain":["T₁ˢᴬ=200.0","T₁ᴱᴳ=150.8","T₁=156.7","T₂ˢᴬ=150.8","T₂ᴱᴳ=200.0","T₂=78.3"],"range":["M0,-1.1L0.247,-0.34L1.046,-0.34L0.4,0.13L0.647,0.89L0,0.42L-0.647,0.89L-0.4,0.13L-1.046,-0.34L-0.247,-0.34Z","M0,-1.15L1.15,0L0,1.15L-1.15,0Z","M0.8,0A0.8,0.8,0,1,1,-0.8,0A0.8,0.8,0,1,1,0.8,0Z","M0,-1.1L0.247,-0.34L1.046,-0.34L0.4,0.13L0.647,0.89L0,0.42L-0.647,0.89L-0.4,0.13L-1.046,-0.34L-0.247,-0.34Z","M0,-1.15L1.15,0L0,1.15L-1.15,0Z","M0.8,0A0.8,0.8,0,1,1,-0.8,0A0.8,0.8,0,1,1,0.8,0Z"]},"legend":null}}},
   {"data":{"values":[{"lab":"1e3"}]},"mark":{"type":"text","fontSize":17.5,"align":"right","baseline":"alphabetic","color":"#553593"},
    "encoding":{"x":{"datum":3,"type":"quantitative","scale":{"domain":[0,3],"nice":false}},"y":{"datum":505500,"type":"quantitative","scale":{"domain":[0,500000],"nice":false}},"text":{"field":"lab","type":"nominal"}}}
  ]},
  {"layer":[
   {"data":{"name":"fSA"},"mark":{"type":"line","strokeWidth":2.5,"clip":true},
    "encoding":{"x":{"field":"f","type":"quantitative","scale":{"domain":[0,3],"nice":false},"axis":{"values":[0,1,2,3],"format":"d","title":"Frequency"}},
     "y":{"field":"v","type":"quantitative","scale":{"domain":[0,30],"nice":false},"axis":{"orient":"left","values":[0,10,20,30],"format":"d","title":null}},
     "color":{"datum":"SA","type":"nominal","scale":{"domain":["SA","EG","Activity"],"range":["#f4874f","#8fc1e0","#4b2a86"]},"legend":null}}},
   {"data":{"name":"fEG"},"mark":{"type":"line","strokeWidth":4,"clip":true},
    "encoding":{"x":{"field":"f","type":"quantitative","scale":{"domain":[0,3],"nice":false}},"y":{"field":"v","type":"quantitative","scale":{"domain":[0,30],"nice":false}},
     "color":{"datum":"EG","type":"nominal","scale":{"domain":["SA","EG","Activity"],"range":["#f4874f","#8fc1e0","#4b2a86"]},"legend":null}}},
   {"data":{"name":"fM"},"mark":{"type":"point","filled":true,"size":196,"strokeWidth":1,"opacity":1,"clip":true},
    "encoding":{"x":{"field":"f","type":"quantitative","scale":{"domain":[0,3],"nice":false}},"y":{"field":"v","type":"quantitative","scale":{"domain":[0,30],"nice":false}},
     "fill":{"field":"m","type":"nominal","scale":{"domain":["T₁ˢᴬ=200.0","T₁ᴱᴳ=150.8","T₁=156.7","T₂ˢᴬ=150.8","T₂ᴱᴳ=200.0","T₂=78.3"],"range":["#f4874f","#8fc1e0","#4b2a86","#ffffff","#ffffff","#ffffff"]},
      "legend":{"orient":"none","legendX":0,"legendY":233,"direction":"horizontal","columns":3,"title":null,"fillColor":"white","strokeColor":"#d4d4d4","cornerRadius":3,"padding":6,"labelFontSize":12.5,"labelColor":"#262626","symbolSize":225,"symbolStrokeWidth":1,"labelOffset":10,"columnPadding":12,"rowPadding":-1}},
     "stroke":{"field":"m","type":"nominal","scale":{"domain":["T₁ˢᴬ=200.0","T₁ᴱᴳ=150.8","T₁=156.7","T₂ˢᴬ=150.8","T₂ᴱᴳ=200.0","T₂=78.3"],"range":["#333333","#333333","#333333","#333333","#333333","#333333"]},
      "legend":{"orient":"none","legendX":0,"legendY":233,"direction":"horizontal","columns":3,"title":null,"fillColor":"white","strokeColor":"#d4d4d4","cornerRadius":3,"padding":6,"labelFontSize":12.5,"labelColor":"#262626","symbolSize":225,"symbolStrokeWidth":1,"labelOffset":10,"columnPadding":12,"rowPadding":-1}},
     "shape":{"field":"m","type":"nominal","scale":{"domain":["T₁ˢᴬ=200.0","T₁ᴱᴳ=150.8","T₁=156.7","T₂ˢᴬ=150.8","T₂ᴱᴳ=200.0","T₂=78.3"],"range":["M0,-1.1L0.247,-0.34L1.046,-0.34L0.4,0.13L0.647,0.89L0,0.42L-0.647,0.89L-0.4,0.13L-1.046,-0.34L-0.247,-0.34Z","M0,-1.15L1.15,0L0,1.15L-1.15,0Z","M0.8,0A0.8,0.8,0,1,1,-0.8,0A0.8,0.8,0,1,1,0.8,0Z","M0,-1.1L0.247,-0.34L1.046,-0.34L0.4,0.13L0.647,0.89L0,0.42L-0.647,0.89L-0.4,0.13L-1.046,-0.34L-0.247,-0.34Z","M0,-1.15L1.15,0L0,1.15L-1.15,0Z","M0.8,0A0.8,0.8,0,1,1,-0.8,0A0.8,0.8,0,1,1,0.8,0Z"]},
      "legend":{"orient":"none","legendX":0,"legendY":233,"direction":"horizontal","columns":3,"title":null,"fillColor":"white","strokeColor":"#d4d4d4","cornerRadius":3,"padding":6,"labelFontSize":12.5,"labelColor":"#262626","symbolSize":225,"symbolStrokeWidth":1,"labelOffset":10,"columnPadding":12,"rowPadding":-1}}}},
   {"data":{"values":[{"lab":"(f)"}]},"mark":{"type":"text","fontSize":18.5,"fontWeight":"bold","align":"left","baseline":"alphabetic","color":"#262626"},
    "encoding":{"x":{"datum":-0.207,"type":"quantitative","scale":{"domain":[0,3],"nice":false}},"y":{"datum":33.77,"type":"quantitative","scale":{"domain":[0,30],"nice":false}},"text":{"field":"lab","type":"nominal"}}},
   {"data":{"values":[{"lab":"1e3"}]},"mark":{"type":"text","fontSize":17.5,"align":"left","baseline":"alphabetic","color":"#262626"},
    "encoding":{"x":{"datum":0,"type":"quantitative","scale":{"domain":[0,3],"nice":false}},"y":{"datum":30.33,"type":"quantitative","scale":{"domain":[0,30],"nice":false}},"text":{"field":"lab","type":"nominal"}}},
   {"data":{"values":[{"lab":"1e−2"}]},"mark":{"type":"text","fontSize":17.5,"align":"right","baseline":"alphabetic","color":"#262626"},
    "encoding":{"x":{"datum":3,"type":"quantitative","scale":{"domain":[0,3],"nice":false}},"y":{"datum":-6.23,"type":"quantitative","scale":{"domain":[0,30],"nice":false}},"text":{"field":"lab","type":"nominal"}}}
  ]}
 ]}
]
}
